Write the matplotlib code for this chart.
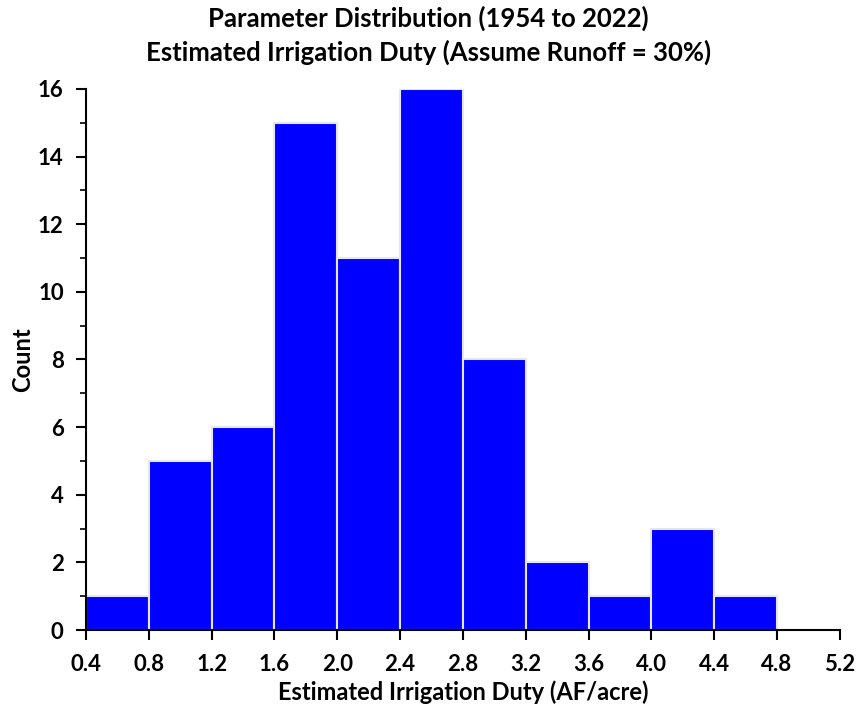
import matplotlib
matplotlib.use('Agg')
import matplotlib.pyplot as plt
from matplotlib.ticker import MultipleLocator

plt.rcParams['font.family'] = ['Lato', 'DejaVu Sans']
plt.rcParams['font.weight'] = 'bold'

# histogram bins and counts
bin_edges = [0.4, 0.8, 1.2, 1.6, 2.0, 2.4, 2.8, 3.2, 3.6, 4.0, 4.4, 4.8]
counts = [1, 5, 6, 15, 11, 16, 8, 2, 1, 3, 1]
x_ticks = [0.4, 0.8, 1.2, 1.6, 2.0, 2.4, 2.8, 3.2, 3.6, 4.0, 4.4, 4.8, 5.2]

fig = plt.figure(figsize=(8.57, 7.06), dpi=100)
ax = fig.add_axes([0.1003, 0.1076, 0.8797, 0.7664])

ax.hist(bin_edges[:-1], bins=bin_edges, weights=counts,
        color='#0000ff', edgecolor='#e6e6ee', linewidth=1.5)

ax.set_xlim(0.4, 5.2)
ax.set_ylim(0, 16)
ax.set_xticks(x_ticks)
ax.set_xticklabels([f'{t:.1f}' for t in x_ticks])
ax.yaxis.set_major_locator(MultipleLocator(2))
ax.yaxis.set_minor_locator(MultipleLocator(1))

for s in ['top', 'right']:
    ax.spines[s].set_visible(False)
for s in ['left', 'bottom']:
    ax.spines[s].set_linewidth(1.5)
ax.tick_params(axis='both', which='major', direction='out', length=7, width=1.5,
               labelsize=16, pad=9)
ax.tick_params(axis='x', which='major', pad=10)
ax.tick_params(axis='y', which='minor', direction='out', length=4, width=1.2)
for lbl in ax.get_xticklabels() + ax.get_yticklabels():
    lbl.set_fontweight('bold')

ax.set_xlabel('Estimated Irrigation Duty (AF/acre)', fontsize=17, fontweight='bold', labelpad=4)
ax.set_ylabel('Count', fontsize=17, fontweight='bold', labelpad=3)
fig.suptitle('Parameter Distribution (1954 to 2022)\nEstimated Irrigation Duty (Assume Runoff = 30%)',
             x=0.5, y=0.992, va='top', fontsize=18.5, fontweight='bold', linespacing=1.4)

fig.savefig('out.png', dpi=100)
